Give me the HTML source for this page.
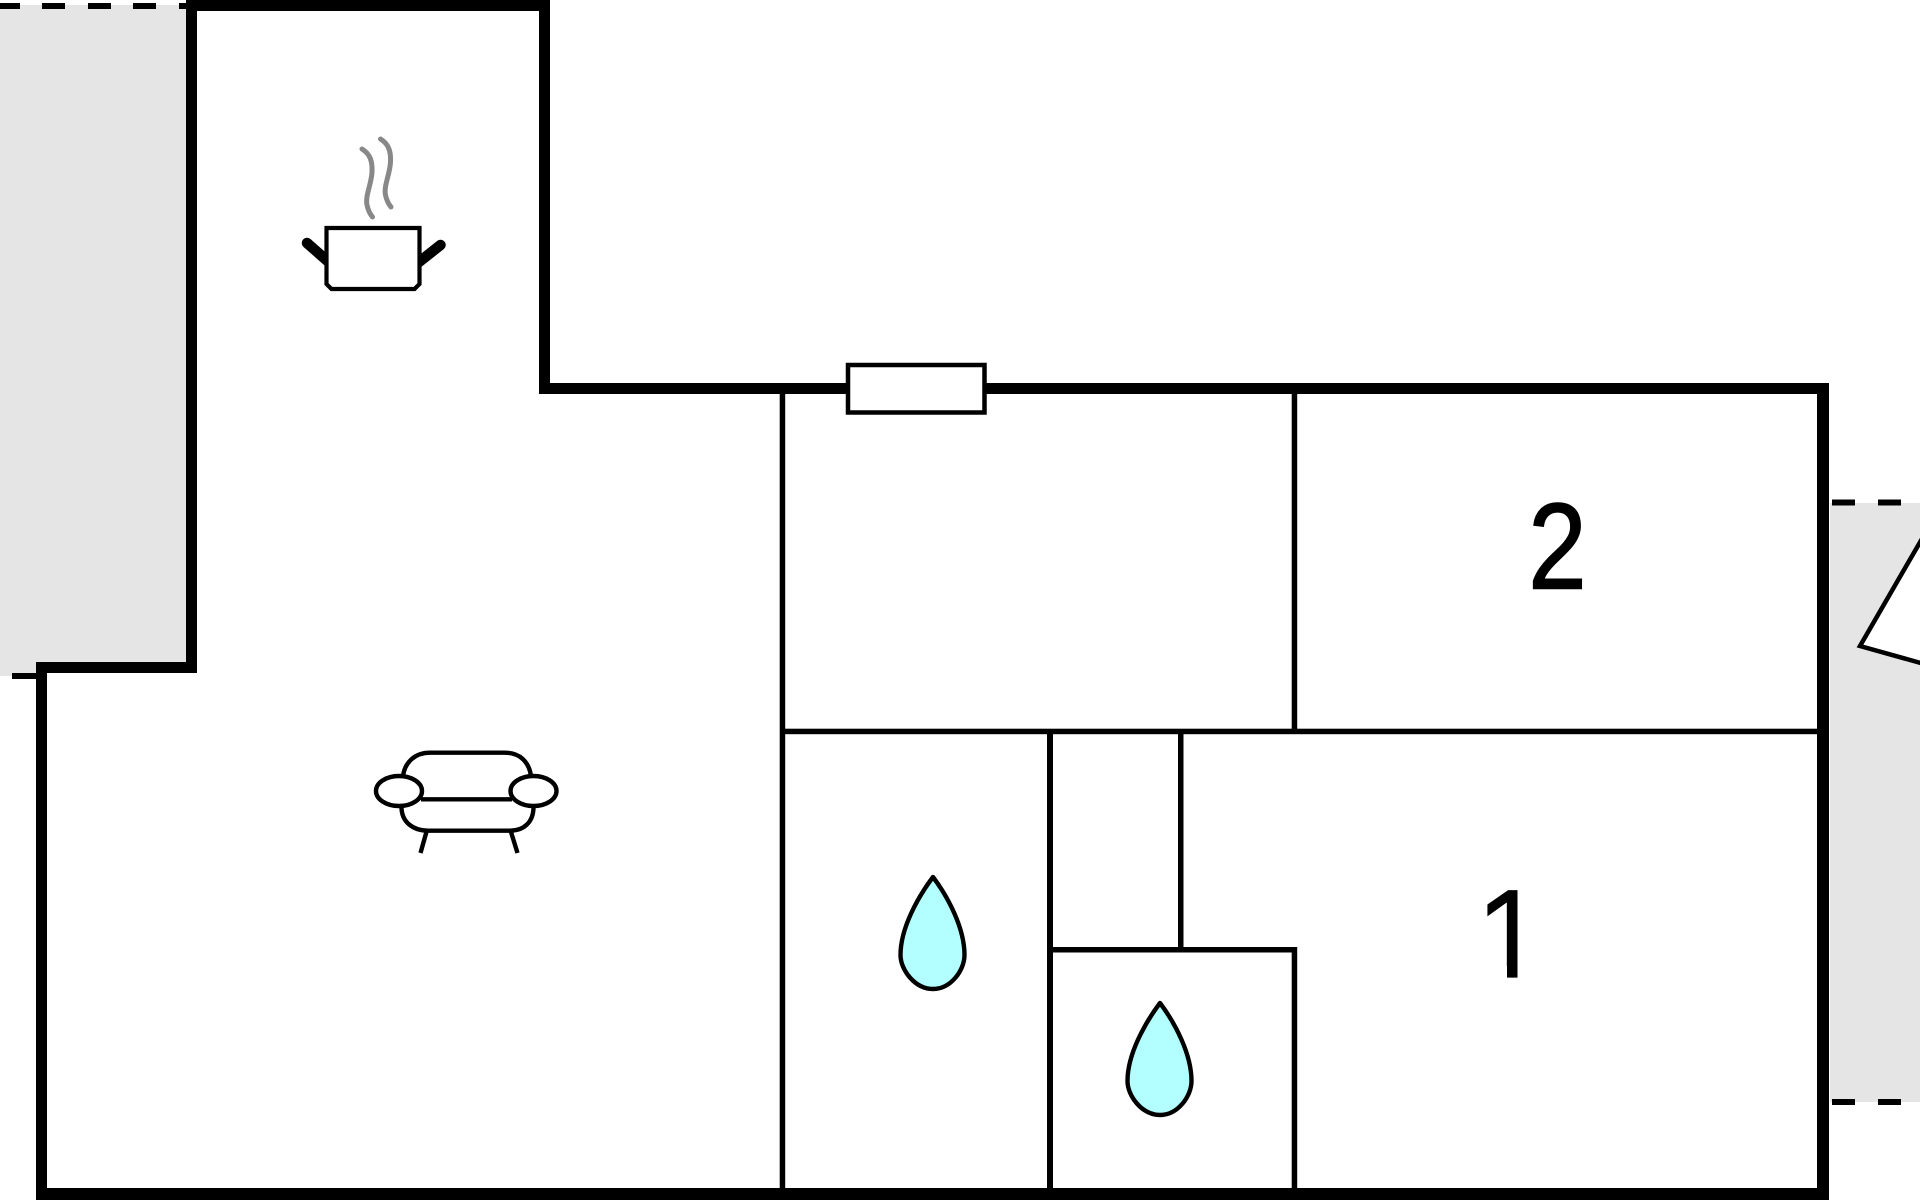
<!DOCTYPE html>
<html>
<head>
<meta charset="utf-8">
<style>
html,body{margin:0;padding:0;background:#fff;width:1920px;height:1200px;overflow:hidden}
svg{display:block}
text{font-family:"Liberation Sans",sans-serif;font-size:125px;fill:#000}
</style>
</head>
<body>
<svg width="1920" height="1200" viewBox="0 0 1920 1200" xmlns="http://www.w3.org/2000/svg">
<defs>
<clipPath id="one"><polygon points="1486,880 1517.5,880 1517.5,978 1507,978 1507,966 1486,966"/></clipPath>
</defs>
<rect width="1920" height="1200" fill="#fff"/>
<!-- grey terraces -->
<polygon points="0,5 186,5 186,662 36,662 36,676 0,676" fill="#e5e5e5"/>
<rect x="1830" y="503" width="90" height="599" fill="#e5e5e5"/>
<!-- dashes -->
<g fill="#000">
<rect x="0" y="3" width="20" height="6"/>
<rect x="42" y="3" width="23" height="6"/>
<rect x="88" y="3" width="23" height="6"/>
<rect x="133" y="3" width="23" height="6"/>
<rect x="179" y="3" width="8" height="6"/>
<rect x="12" y="673" width="24" height="6"/>
<rect x="1832" y="499.5" width="23" height="6"/>
<rect x="1878" y="499.5" width="23" height="6"/>
<rect x="1832" y="1099" width="23" height="6"/>
<rect x="1878" y="1099" width="23" height="6"/>
</g>
<!-- triangle -->
<polygon points="1860,646 1960,473 1960,674" fill="#fff" stroke="#000" stroke-width="4.5"/>
<!-- inner walls -->
<g fill="#000">
<rect x="779.7" y="390" width="5.5" height="800"/>
<rect x="1047" y="731" width="6" height="459"/>
<rect x="1178" y="731" width="5.5" height="220"/>
<rect x="1291.7" y="390" width="5.5" height="343"/>
<rect x="1291.7" y="947" width="5.5" height="243"/>
<rect x="782" y="728.7" width="1037" height="5.5"/>
<rect x="1047" y="947" width="250" height="5.5"/>
</g>
<!-- outer walls -->
<g fill="#000">
<rect x="186" y="0" width="364" height="11"/>
<rect x="186" y="0" width="11" height="673"/>
<rect x="36" y="662" width="161" height="11"/>
<rect x="36" y="662" width="11" height="538"/>
<rect x="36" y="1188" width="1793" height="12"/>
<rect x="539" y="0" width="11" height="394"/>
<rect x="539" y="383" width="1290" height="11"/>
<rect x="1817" y="383" width="12" height="817"/>
</g>
<!-- window -->
<rect x="848" y="365" width="136.5" height="47.5" fill="#fff" stroke="#000" stroke-width="4.5"/>
<!-- pot -->
<g>
<path d="M362 149 C370 154 372.5 161 372 172 C371.5 184 365 196 367 205 C368 210 370 214 372.5 217" fill="none" stroke="#888" stroke-width="5" stroke-linecap="round"/>
<path d="M380.5 139 C388.5 144 391 151 390.5 162 C390 174 383.5 186 385.5 195 C386.5 200 388.5 204 391 207" fill="none" stroke="#888" stroke-width="5" stroke-linecap="round"/>
<path d="M307 243 L332 265" fill="none" stroke="#000" stroke-width="10.5" stroke-linecap="round"/>
<path d="M440.5 245 L414 266" fill="none" stroke="#000" stroke-width="10.5" stroke-linecap="round"/>
<path d="M326.5 228 H419.5 V284 L414.5 289 H331.5 L326.5 284 Z" fill="#fff" stroke="#000" stroke-width="4.2"/>
</g>
<!-- sofa -->
<g fill="none" stroke="#000" stroke-width="4.4">
<path d="M403 776 C405 762 415 752.7 430 752.7 H505 C520 752.7 529 762 531 776"/>
<path d="M421 799.3 H512"/>
<path d="M401.5 807 C401.5 822 413 830.7 428 830.7 H510 C524 830.7 533.5 822 533.5 807"/>
<path d="M426.7 831 L420.5 853"/>
<path d="M510.7 831 L517.5 853"/>
<ellipse cx="399" cy="791" rx="23" ry="15"/>
<ellipse cx="533.5" cy="791" rx="23" ry="15"/>
</g>
<!-- drops -->
<path d="M933 877 C918 897 900.5 928 900.5 955 C900.5 970 915 989 933 989 C951 989 964.5 970 964.5 955 C964.5 928 948 897 933 877 Z" fill="#b3ffff" stroke="#000" stroke-width="4.4" stroke-linejoin="round"/>
<path d="M1160 1003 C1145 1023 1127.5 1054 1127.5 1081 C1127.5 1096 1142 1115 1160 1115 C1178 1115 1191.5 1096 1191.5 1081 C1191.5 1054 1175 1023 1160 1003 Z" fill="#b3ffff" stroke="#000" stroke-width="4.4" stroke-linejoin="round"/>
<!-- labels -->
<text transform="translate(1557.5,588.5) scale(.84,.98)" text-anchor="middle" stroke="#000" stroke-width="1.6">2</text>
<g clip-path="url(#one)"><text x="1476" y="977" stroke="#000" stroke-width="1.2">1</text></g>
</svg>
</body>
</html>
